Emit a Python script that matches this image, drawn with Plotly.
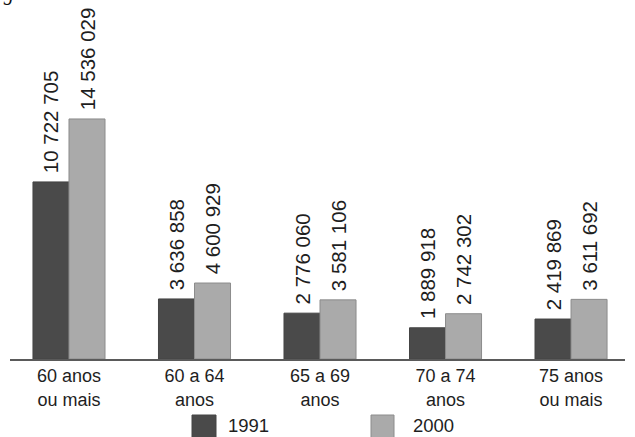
import plotly.graph_objects as go

# População idosa por faixa etária, Brasil (1991 e 2000)
categorias = ["60 anos<br>ou mais", "60 a 64<br>anos", "65 a 69<br>anos",
              "70 a 74<br>anos", "75 anos<br>ou mais"]
pop_1991 = [10722705, 3636858, 2776060, 1889918, 2419869]
pop_2000 = [14536029, 4600929, 3581106, 2742302, 3611692]
anos = ["1991", "2000"]

COR_1991 = "#4a4a4a"
COR_2000 = "#aaaaaa"
FONTE = "Liberation Sans, Arial, sans-serif"

W, H = 635, 437
M_L, M_R, M_T, M_B = 10, 10, 0, 78
PLOT_W = W - M_L - M_R
PLOT_H = H - M_T - M_B


def rotulo(v):
    # separador de milhar com espaço; o espaço inicial afasta o rótulo da barra
    return "\u00a0" + f"{v:,}".replace(",", " ")


def px_x(px):
    return (px - M_L) / PLOT_W


def px_y(py):
    return (H - M_B - py) / PLOT_H


fig = go.Figure()
for nome, vals, cor, borda in [(anos[0], pop_1991, COR_1991, "#444444"),
                               (anos[1], pop_2000, COR_2000, "#8c8c8c")]:
    fig.add_trace(go.Bar(
        x=list(range(len(categorias))), y=vals, name=nome,
        marker=dict(color=cor, line=dict(color=borda, width=1)),
        text=[rotulo(v) for v in vals], textposition="outside",
        textangle=-90, cliponaxis=False, constraintext="none",
        textfont=dict(family=FONTE, size=20.5, color="#1e1e1e"),
        showlegend=False,
    ))

# legenda desenhada abaixo do eixo
shapes = []
annotations = []
for (x0, x1, tx), cor, borda, nome in [((192, 216, 226), COR_1991, "#444444", anos[0]),
                                      ((371, 394, 411), COR_2000, "#8c8c8c", anos[1])]:
    shapes.append(dict(type="rect", xref="paper", yref="paper",
                       x0=px_x(x0), x1=px_x(x1), y0=px_y(415), y1=px_y(440),
                       fillcolor=cor, line=dict(color=borda, width=1)))
    annotations.append(dict(xref="paper", yref="paper", x=px_x(tx), y=px_y(438),
                            xanchor="left", yanchor="bottom", showarrow=False,
                            text=nome, font=dict(family=FONTE, size=18.5, color="#1e1e1e")))

# resto do título da figura, cortado na borda superior
annotations.append(dict(xref="paper", yref="paper", x=px_x(36), y=px_y(7),
                        xanchor="right", yanchor="bottom", showarrow=False,
                        text="<i>Fig. 1</i>",
                        font=dict(family="Liberation Serif, serif", size=20, color="#111111")))

fig.update_layout(
    width=W, height=H,
    margin=dict(l=M_L, r=M_R, t=M_T, b=M_B, pad=0),
    paper_bgcolor="white", plot_bgcolor="white",
    barmode="group", bargap=0.426, bargroupgap=0,
    shapes=shapes, annotations=annotations,
    font=dict(family=FONTE, color="#1e1e1e"),
)
fig.update_xaxes(
    tickmode="array", tickvals=list(range(len(categorias))), ticktext=categorias,
    range=[-0.47, 4.43], showgrid=False, zeroline=False,
    showline=True, linecolor="#5a5a5a", linewidth=1.5, ticks="",
    tickfont=dict(family=FONTE, size=18, color="#1e1e1e"),
)
fig.update_yaxes(range=[0, 21.74e6], visible=False, showgrid=False, zeroline=False)

fig.write_html("out.html")
